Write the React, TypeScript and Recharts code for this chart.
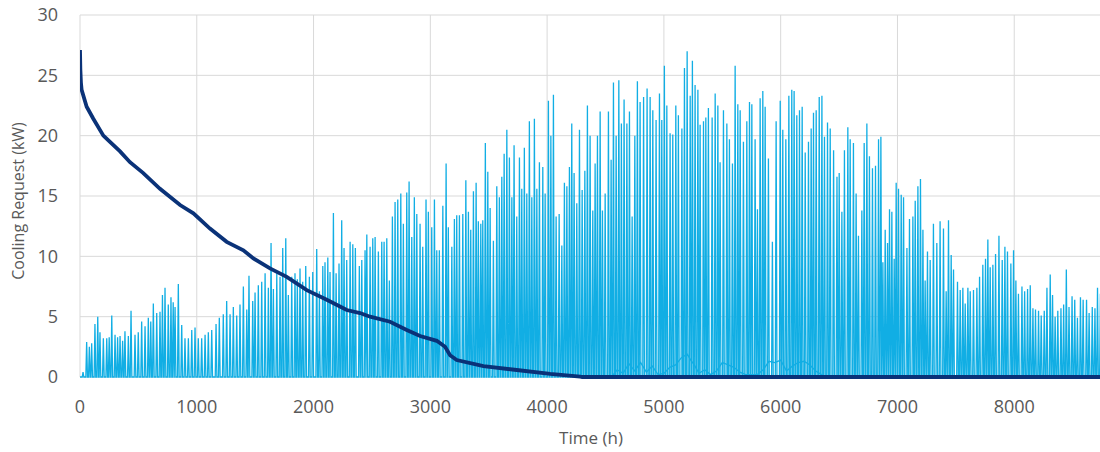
import React from "react";
import { LineChart, Line, XAxis, YAxis, CartesianGrid } from "recharts";

// Daily peak cooling request: [hour of peak, kW]
const dailyPeaks: [number, number][] = [
  [26, 0.4], [57, 2.9], [80, 2.5], [100, 2.8], [128, 4.4], [152, 5.0], [171, 3.7], [200, 3.2], [229, 3.2], [250, 3.3],
  [272, 5.1], [300, 3.5], [322, 3.3], [343, 3.4], [365, 3.0], [385, 3.8], [414, 3.4], [437, 5.5], [471, 3.5], [499, 3.7],
  [528, 4.6], [557, 4.2], [585, 4.9], [606, 4.6], [628, 6.1], [657, 5.3], [685, 5.4], [706, 6.8], [728, 7.4], [756, 6.0],
  [779, 6.6], [798, 6.2], [814, 5.8], [842, 7.7], [871, 4.3], [899, 3.2], [928, 3.2], [957, 3.9], [985, 4.1], [1013, 3.2],
  [1042, 3.2], [1071, 3.5], [1099, 3.7], [1128, 3.9], [1165, 4.4], [1193, 4.9], [1227, 5.2], [1256, 6.3], [1285, 5.2], [1313, 5.8],
  [1342, 5.1], [1370, 6.0], [1399, 7.5], [1428, 5.6], [1447, 8.4], [1479, 6.3], [1499, 7.0], [1527, 7.6], [1556, 7.9], [1585, 8.6],
  [1613, 7.4], [1636, 11.1], [1656, 7.3], [1685, 8.6], [1713, 8.3], [1736, 10.7], [1762, 11.5], [1784, 6.8], [1813, 8.3], [1841, 8.6],
  [1861, 8.1], [1884, 9.0], [1907, 7.9], [1933, 9.2], [1964, 8.3], [1993, 8.7], [2027, 10.6], [2050, 7.1], [2079, 9.2], [2098, 9.5],
  [2122, 9.9], [2141, 8.7], [2170, 13.6], [2193, 8.6], [2218, 9.4], [2241, 13.0], [2261, 10.7], [2284, 9.7], [2313, 11.2], [2336, 11.0],
  [2358, 10.7], [2392, 9.2], [2413, 9.7], [2441, 10.5], [2456, 11.8], [2484, 10.8], [2507, 11.5], [2527, 11.6], [2555, 10.4], [2584, 11.2],
  [2604, 11.2], [2627, 11.5], [2649, 8.0], [2675, 13.3], [2698, 14.5], [2721, 14.7], [2747, 15.2], [2769, 12.7], [2798, 15.3], [2818, 16.2],
  [2841, 11.6], [2863, 14.9], [2884, 13.5], [2912, 12.7], [2935, 10.8], [2963, 14.7], [2983, 13.7], [3012, 12.4], [3035, 14.7], [3055, 10.5],
  [3077, 10.5], [3107, 14.2], [3135, 17.7], [3154, 12.4], [3184, 10.8], [3206, 13.1], [3226, 13.4], [3249, 13.4], [3278, 13.5], [3304, 16.3],
  [3326, 13.7], [3346, 12.2], [3369, 15.4], [3392, 16.1], [3411, 12.9], [3432, 12.7], [3449, 13.0], [3471, 19.4], [3492, 17.0], [3512, 14.0],
  [3540, 11.3], [3569, 15.8], [3591, 14.9], [3612, 16.6], [3632, 18.5], [3655, 20.5], [3677, 18.2], [3698, 14.9], [3717, 19.2], [3740, 13.3],
  [3763, 18.2], [3783, 15.6], [3805, 19.0], [3826, 15.2], [3848, 21.2], [3869, 14.9], [3891, 21.4], [3912, 15.6], [3934, 17.8], [3963, 17.4],
  [3983, 15.2], [4011, 22.9], [4032, 20.0], [4054, 23.4], [4077, 13.3], [4103, 13.5], [4126, 10.9], [4148, 16.1], [4169, 15.8], [4191, 17.4],
  [4211, 21.0], [4231, 16.9], [4254, 14.4], [4277, 20.5], [4300, 15.5], [4323, 17.1], [4345, 22.5], [4368, 20.0], [4391, 13.8], [4411, 17.7],
  [4431, 20.0], [4454, 22.0], [4474, 13.8], [4497, 15.2], [4525, 22.0], [4548, 18.0], [4568, 24.4], [4591, 20.0], [4614, 24.6], [4636, 21.0],
  [4659, 23.0], [4683, 21.0], [4705, 22.0], [4728, 13.3], [4751, 20.0], [4773, 24.5], [4796, 22.8], [4826, 23.2], [4856, 23.9], [4882, 23.2],
  [4905, 22.1], [4933, 21.3], [4962, 23.5], [4982, 21.3], [5004, 25.8], [5025, 22.5], [5053, 20.2], [5076, 20.1], [5102, 22.5], [5124, 21.7],
  [5154, 20.6], [5176, 25.6], [5199, 27.0], [5225, 23.3], [5244, 26.2], [5267, 24.2], [5291, 23.8], [5310, 20.9], [5339, 21.2], [5359, 21.5],
  [5381, 22.3], [5413, 21.5], [5439, 23.5], [5462, 22.5], [5481, 17.8], [5510, 22.1], [5539, 21.0], [5561, 19.7], [5587, 17.7], [5610, 25.8],
  [5633, 22.6], [5653, 22.1], [5681, 19.5], [5710, 21.2], [5733, 22.8], [5753, 22.6], [5781, 19.7], [5801, 13.9], [5824, 23.1], [5847, 23.7],
  [5867, 22.4], [5895, 18.1], [5929, 11.2], [5961, 21.2], [5996, 22.9], [6018, 20.5], [6044, 19.7], [6070, 23.3], [6095, 23.8], [6115, 23.7],
  [6138, 21.7], [6161, 22.1], [6184, 22.4], [6210, 18.6], [6238, 19.5], [6261, 20.6], [6281, 21.9], [6304, 22.1], [6330, 23.2], [6353, 23.3],
  [6375, 19.9], [6401, 21.1], [6424, 20.6], [6453, 18.8], [6482, 16.6], [6501, 16.9], [6524, 13.7], [6546, 18.8], [6575, 20.7], [6595, 19.7],
  [6623, 19.4], [6646, 15.2], [6666, 11.7], [6695, 13.8], [6715, 19.4], [6738, 21.0], [6760, 18.3], [6786, 17.3], [6812, 17.5], [6838, 19.7],
  [6858, 19.9], [6875, 9.5], [6895, 12.2], [6915, 11.1], [6932, 13.9], [6952, 13.7], [6972, 9.8], [6989, 16.1], [7009, 15.6], [7032, 15.1],
  [7052, 14.9], [7081, 10.7], [7103, 13.1], [7132, 13.3], [7152, 14.6], [7175, 15.8], [7197, 16.4], [7218, 12.2], [7237, 8.0], [7257, 10.4],
  [7280, 9.7], [7308, 12.7], [7337, 11.1], [7365, 12.9], [7394, 12.3], [7417, 7.1], [7437, 13.0], [7460, 10.1], [7480, 8.9], [7514, 7.9],
  [7537, 7.2], [7560, 7.4], [7580, 6.1], [7603, 7.4], [7623, 7.1], [7651, 7.2], [7680, 7.4], [7703, 8.3], [7731, 9.3], [7754, 9.8],
  [7774, 11.4], [7794, 9.1], [7817, 9.3], [7840, 10.2], [7869, 11.7], [7897, 9.7], [7920, 10.8], [7942, 10.4], [7971, 9.4], [7994, 10.5],
  [8014, 8.0], [8036, 6.9], [8066, 7.5], [8089, 7.1], [8114, 7.3], [8137, 7.6], [8160, 5.7], [8182, 5.6], [8208, 5.5], [8231, 5.1],
  [8257, 5.5], [8280, 7.4], [8308, 8.5], [8328, 6.8], [8350, 5.0], [8373, 5.5], [8400, 5.7], [8423, 6.0], [8446, 8.9], [8469, 5.8],
  [8495, 6.7], [8518, 6.4], [8541, 4.9], [8567, 6.6], [8590, 6.4], [8619, 6.4], [8641, 5.3], [8668, 5.8], [8691, 5.7], [8713, 7.4],
  [8738, 6.9],
];

// Summer night-time residual cooling request: [hour, kW]
const nightLoad: [number, number][] = [
  [4550, 0], [4600, 0.6], [4650, 0.3], [4700, 1.1], [4750, 0.5], [4800, 1.2], [4850, 0.4], [4900, 0.9], [4950, 0.2],
  [5000, 0.3], [5050, 0.8], [5100, 1.0], [5150, 1.6], [5200, 1.9], [5230, 1.4], [5260, 1.0], [5300, 0.3], [5350, 0.6],
  [5400, 0.2], [5450, 0.5], [5500, 1.2], [5550, 1.0], [5600, 0.8], [5650, 0.4], [5700, 0.2], [5800, 0.2], [5850, 0.6],
  [5900, 1.3], [5950, 1.2], [6000, 1.4], [6050, 0.5], [6100, 0.9], [6150, 1.2], [6200, 1.3], [6250, 1.0], [6300, 0.5],
  [6350, 0.2], [6400, 0],
];

// Load duration curve (sorted cooling request): [hours, kW]
const durationCurve: [number, number][] = [
  [0, 27.1], [3, 25.5], [8, 24.4], [14, 23.8], [57, 22.4], [114, 21.4], [200, 20.0], [243, 19.6], [343, 18.7], [428, 17.8],
  [542, 16.9], [685, 15.6], [857, 14.25], [971, 13.56], [1113, 12.3], [1256, 11.2], [1399, 10.5], [1485, 9.83], [1627, 9.0],
  [1770, 8.3], [1942, 7.2], [2113, 6.4], [2284, 5.55], [2398, 5.3], [2484, 5.0], [2655, 4.58], [2798, 3.9], [2912, 3.4],
  [3055, 3.0], [3126, 2.5], [3169, 1.8], [3226, 1.4], [3455, 0.9], [3740, 0.58], [4026, 0.25], [4283, 0.03], [4300, 0], [8760, 0],
];

const xTicks = [0, 1000, 2000, 3000, 4000, 5000, 6000, 7000, 8000];
const yTicks = [0, 5, 10, 15, 20, 25, 30];

const SPIKE_HALF_WIDTH = 7;

const spikeData: { h: number; c: number }[] = [{ h: 0, c: 0 }];
dailyPeaks.forEach(([h, v]) => {
  spikeData.push({ h: h - SPIKE_HALF_WIDTH, c: 0 });
  spikeData.push({ h, c: v });
  spikeData.push({ h: h + SPIKE_HALF_WIDTH, c: 0 });
});
spikeData.push({ h: 8760, c: 0 });

const nightData = nightLoad.map(([h, v]) => ({ h, n: v }));
const curveData = durationCurve.map(([h, v]) => ({ h, d: v }));

const FONT = "'Open Sans', 'Liberation Sans', sans-serif";
const TEXT = "#595959";
const LIGHT = "#11aee4";

export default function App() {
  return (
    <div
      style={{
        position: "fixed",
        left: 0,
        top: 0,
        width: 1100,
        height: 452,
        overflow: "hidden",
        background: "#fff",
      }}
    >
      <LineChart width={1104} height={452} margin={{ top: 15, right: 1, bottom: 0, left: 0 }}>
        <CartesianGrid stroke="#d9d9d9" strokeWidth={1} />
        <XAxis
          type="number"
          dataKey="h"
          domain={[0, 8760]}
          ticks={xTicks}
          allowDataOverflow
          axisLine={false}
          tickLine={false}
          tickSize={0}
          tickMargin={23}
          height={75}
          tick={{ fill: TEXT, fontSize: 18, fontFamily: FONT }}
          label={{
            content: () => (
              <text x={591} y={444} textAnchor="middle" fill={TEXT} fontSize={17} fontFamily={FONT}>
                Time (h)
              </text>
            ),
          }}
        />
        <YAxis
          type="number"
          domain={[0, 30]}
          ticks={yTicks}
          axisLine={false}
          tickLine={false}
          tickSize={0}
          tickMargin={22}
          width={80}
          tick={{ fill: TEXT, fontSize: 18, fontFamily: FONT }}
          label={{
            content: () => (
              <text
                x={24}
                y={201}
                transform="rotate(-90 24 201)"
                textAnchor="middle"
                fill={TEXT}
                fontSize={16}
                fontFamily={FONT}
              >
                Cooling Request (kW)
              </text>
            ),
          }}
        />
        <Line
          data={spikeData}
          dataKey="c"
          type="linear"
          stroke={LIGHT}
          strokeWidth={1.3}
          dot={false}
          activeDot={false}
          isAnimationActive={false}
        />
        <Line
          data={nightData}
          dataKey="n"
          type="linear"
          stroke={LIGHT}
          strokeWidth={1.3}
          dot={false}
          activeDot={false}
          isAnimationActive={false}
        />
        <Line
          data={curveData}
          dataKey="d"
          type="linear"
          stroke="#0a3278"
          strokeWidth={3.8}
          dot={false}
          activeDot={false}
          isAnimationActive={false}
        />
      </LineChart>
    </div>
  );
}
